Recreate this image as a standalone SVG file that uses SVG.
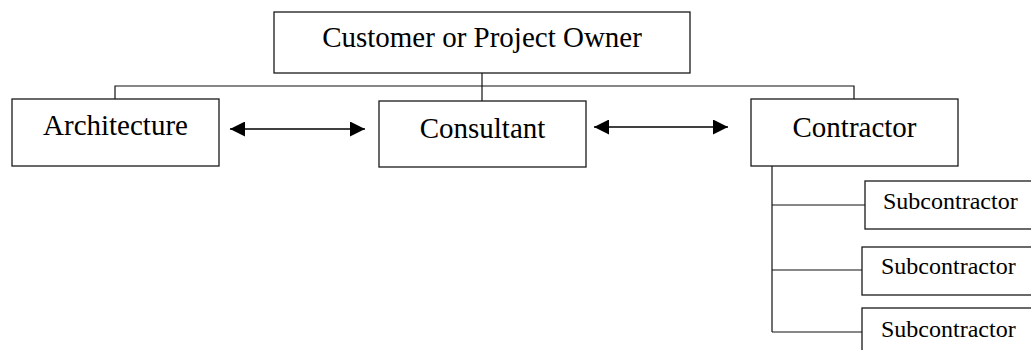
<svg xmlns="http://www.w3.org/2000/svg" width="1031" height="350" viewBox="0 0 1031 350">
  <style>
    .box { fill: #ffffff; stroke: #1a1a1a; stroke-width: 1.3; }
    .line { fill: none; stroke: #111111; stroke-width: 1.2; }
    .arrow { fill: none; stroke: #000000; stroke-width: 1.6; }
    .lbl { font-family: "Liberation Serif", "Times New Roman", serif; font-size: 29px; fill: #000000; text-anchor: middle; }
    .sub { font-family: "Liberation Serif", "Times New Roman", serif; font-size: 24px; fill: #000000; }
  </style>
  <defs>
    <marker id="head" viewBox="0 0 10 10" refX="10" refY="5" markerWidth="15" markerHeight="15" markerUnits="userSpaceOnUse" orient="auto-start-reverse">
      <path d="M0,0 L10,5 L0,10 Z" fill="#000000"/>
    </marker>
  </defs>
  <rect width="1031" height="350" fill="#ffffff"/>

  <!-- connectors -->
  <g id="connectors">
    <path class="line" d="M482,73 V101"/>
    <path class="line" d="M115,99 V86 H854 V99"/>
    <path class="line" d="M772,166 V332"/>
    <path class="line" d="M772,205 H865"/>
    <path class="line" d="M772,270 H862"/>
    <path class="line" d="M772,332 H862"/>
    <path class="arrow" d="M230,129 H365" marker-start="url(#head)" marker-end="url(#head)"/>
    <path class="arrow" d="M594,127 H728" marker-start="url(#head)" marker-end="url(#head)"/>
  </g>

  <g id="owner">
    <rect class="box" x="274" y="12" width="416" height="61"/>
    <text class="lbl" x="482" y="47">Customer or Project Owner</text>
  </g>

  <g id="architecture">
    <rect class="box" x="12" y="99" width="207" height="67"/>
    <text class="lbl" x="115.5" y="135">Architecture</text>
  </g>

  <g id="consultant">
    <rect class="box" x="379" y="101" width="207" height="66"/>
    <text class="lbl" x="482.5" y="138">Consultant</text>
  </g>

  <g id="contractor">
    <rect class="box" x="751" y="99" width="207" height="67"/>
    <text class="lbl" x="854.5" y="137">Contractor</text>
  </g>

  <g id="sub1">
    <rect class="box" x="865" y="181" width="180" height="48"/>
    <text class="sub" x="883" y="209">Subcontractor</text>
  </g>

  <g id="sub2">
    <rect class="box" x="862" y="247" width="180" height="48"/>
    <text class="sub" x="881" y="274">Subcontractor</text>
  </g>

  <g id="sub3">
    <rect class="box" x="862" y="308" width="180" height="60"/>
    <text class="sub" x="881" y="337">Subcontractor</text>
  </g>
</svg>
